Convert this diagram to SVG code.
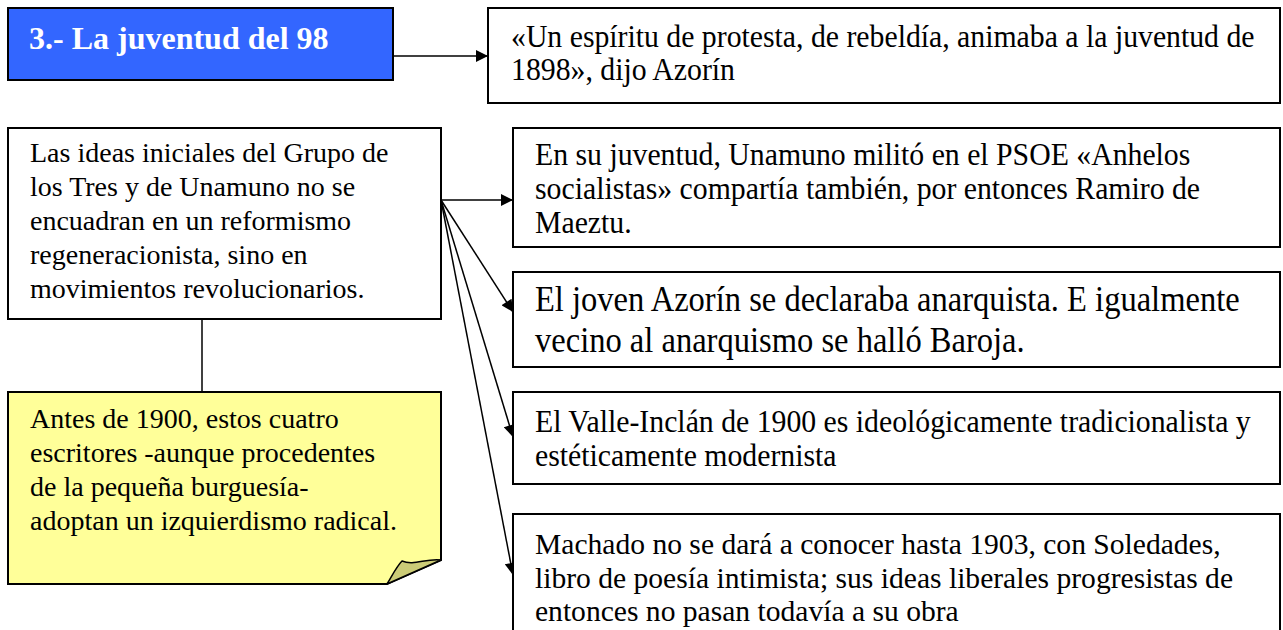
<svg xmlns="http://www.w3.org/2000/svg" width="1283" height="630" viewBox="0 0 1283 630">
<defs>
<style>
.box{fill:#fff;stroke:#000;stroke-width:2}
.t{font-family:"Liberation Serif","Times New Roman",serif;fill:#000}
.a{font-size:28px}
.n{font-size:32px}
.m{font-size:29px}
.c{font-size:35px}
.conn{stroke:#000;stroke-width:1.5;fill:none}
.arr{marker-end:url(#ah)}
</style>
<marker id="ah" viewBox="0 0 10 10" refX="10" refY="5" markerWidth="15" markerHeight="12" markerUnits="userSpaceOnUse" orient="auto">
<path d="M0,0 L10,5 L0,10 z" fill="#000"/>
</marker>
</defs>
<rect width="1283" height="630" fill="#fff"/>

<g id="connectors">
<path class="conn arr" d="M393,56 H488"/>
<path class="conn arr" d="M441,200 H513"/>
<path class="conn arr" d="M441,200 L513,312"/>
<path class="conn arr" d="M441,200 L513,437"/>
<path class="conn arr" d="M441,200 L513,575"/>
<path class="conn" d="M202,319 V392"/>
</g>

<g id="title">
<rect x="8" y="8" width="385" height="72" fill="#3366FF" stroke="#000" stroke-width="2"/>
<text x="29" y="49" style="font-family:'Liberation Serif','Times New Roman',serif;font-size:32px;font-weight:bold;fill:#fff">3.- La juventud del 98</text>
</g>

<g id="quote">
<rect class="box" x="488" y="8" width="792" height="95"/>
<g transform="translate(511,0) scale(0.93,1)">
<text class="t n" x="0" y="47">«Un espíritu de protesta, de rebeldía, animaba a la juventud de</text>
<text class="t n" x="0" y="80">1898», dijo Azorín</text>
</g>
</g>

<g id="ideas">
<rect class="box" x="8" y="128" width="433" height="191"/>
<text class="t a" x="30" y="162">Las ideas iniciales del Grupo de</text>
<text class="t a" x="30" y="196">los Tres y de Unamuno no se</text>
<text class="t a" x="30" y="230">encuadran en un reformismo</text>
<text class="t a" x="30" y="264">regeneracionista, sino en</text>
<text class="t a" x="30" y="298">movimientos revolucionarios.</text>
</g>

<g id="note">
<path d="M8,392 H441 V560 L387,584 H8 Z" fill="#FFFF99" stroke="#000" stroke-width="2" stroke-linejoin="miter"/>
<path d="M387,584 C393,574 397,566 402,561 C414,566 426,558 441,560 Z" fill="#CCCC77" stroke="#000" stroke-width="1.5" stroke-linejoin="round"/>
<text class="t a" x="30" y="428">Antes de 1900, estos cuatro</text>
<text class="t a" x="30" y="462">escritores -aunque procedentes</text>
<text class="t a" x="30" y="496">de la pequeña burguesía-</text>
<text class="t a" x="30" y="530">adoptan un izquierdismo radical.</text>
</g>

<g id="unamuno">
<rect class="box" x="513" y="128" width="767" height="119"/>
<g transform="translate(535,0) scale(0.93,1)">
<text class="t n" x="0" y="165">En su juventud, Unamuno militó en el PSOE «Anhelos</text>
<text class="t n" x="0" y="199">socialistas» compartía también, por entonces Ramiro de</text>
<text class="t n" x="0" y="233">Maeztu.</text>
</g>
</g>

<g id="azorin">
<rect class="box" x="513" y="272" width="767" height="95"/>
<g transform="translate(535,0) scale(0.93,1)">
<text class="t c" x="0" y="311">El joven Azorín se declaraba anarquista. E igualmente</text>
<text class="t c" x="0" y="352">vecino al anarquismo se halló Baroja.</text>
</g>
</g>

<g id="valle">
<rect class="box" x="513" y="392" width="767" height="92"/>
<g transform="translate(535,0) scale(0.93,1)">
<text class="t n" x="0" y="432">El Valle-Inclán de 1900 es ideológicamente tradicionalista y</text>
<text class="t n" x="0" y="466">estéticamente modernista</text>
</g>
</g>

<g id="machado">
<rect class="box" x="513" y="514" width="767" height="140"/>
<g transform="translate(535,0) scale(1.02,1)">
<text class="t m" x="0" y="554">Machado no se dará a conocer hasta 1903, con Soledades,</text>
<text class="t m" x="0" y="588">libro de poesía intimista; sus ideas liberales progresistas de</text>
<text class="t m" x="0" y="621">entonces no pasan todavía a su obra</text>
</g>
</g>
</svg>
